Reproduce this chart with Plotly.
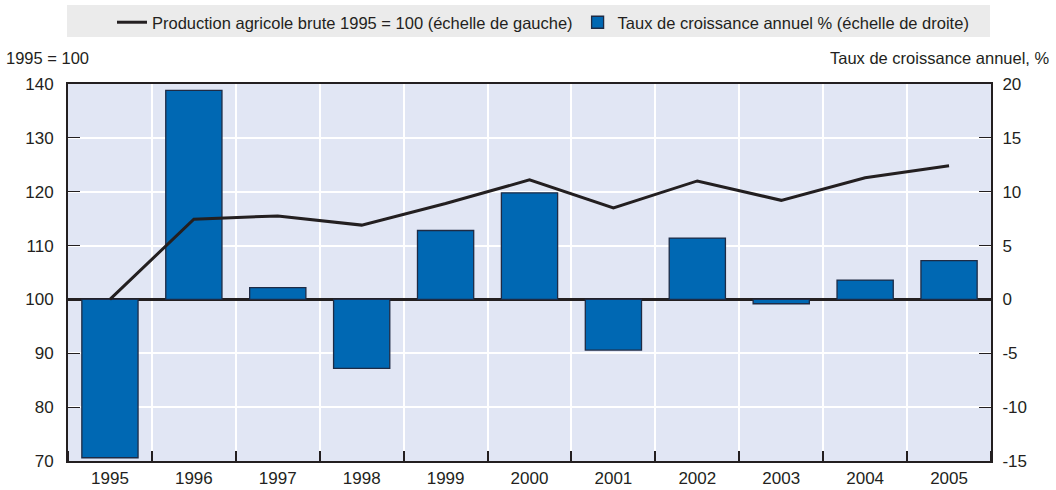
import plotly.graph_objects as go

years = [1995, 1996, 1997, 1998, 1999, 2000, 2001, 2002, 2003, 2004, 2005]
production_index = [100.0, 114.9, 115.5, 113.8, 117.8, 122.2, 117.0, 122.0, 118.4, 122.6, 124.8]
growth_rate = [-14.7, 19.4, 1.1, -6.4, 6.4, 9.9, -4.7, 5.7, -0.4, 1.8, 3.6]
year_labels = [str(y) for y in years]
left_ticks = [70, 80, 90, 100, 110, 120, 130, 140]
right_ticks = [-15, -10, -5, 0, 5, 10, 15, 20]
right_tick_labels = [str(v) for v in right_ticks]

name_line = "Production agricole brute 1995 = 100 (échelle de gauche)"
name_bar = "Taux de croissance annuel % (échelle de droite)"

FONT = "Liberation Sans Narrow, Arial Narrow, Liberation Sans, Arial, sans-serif"
DARK = "#231F20"

fig = go.Figure()
fig.add_trace(go.Scatter(
    x=years, y=production_index, name=name_line, mode="lines",
    line=dict(color=DARK, width=3), yaxis="y2",
))
fig.add_trace(go.Bar(
    x=years, y=growth_rate, name=name_bar, width=0.67,
    marker=dict(color="#0068B3", line=dict(color="#1E2B45", width=1.3)),
    yaxis="y",
))

W, H = 1056, 490
L, R, T, B = 68, 65, 84, 29
pw, ph = W - L - R, H - T - B

def px_x(x):
    return (x - L) / pw

def px_y(y):
    return 1 + (T - y) / ph

fig.update_layout(
    width=W, height=H,
    margin=dict(l=L, r=R, t=T, b=B, pad=0, autoexpand=False),
    paper_bgcolor="white",
    plot_bgcolor="#E1E6F4",
    font=dict(family=FONT, size=17, color=DARK),
    showlegend=True,
    legend=dict(
        orientation="h", x=px_x(112), y=px_y(5), xanchor="left", yanchor="top",
        bgcolor="rgba(0,0,0,0)", font=dict(size=16.5, family=FONT, color=DARK),
        traceorder="normal", itemwidth=30,
    ),
    xaxis=dict(
        range=[1994.5, 2005.5],
        tickvals=years, ticktext=year_labels,
        ticks="", showgrid=False, automargin=False,
        showline=True, linecolor=DARK, linewidth=2, mirror=True,
        zeroline=False, ticklabelstandoff=1,
        minor=dict(tick0=1995.5, dtick=1, ticks="inside", ticklen=10,
                   tickcolor=DARK, tickwidth=1.5,
                   showgrid=True, gridcolor="white", gridwidth=1.5),
        tickfont=dict(size=17),
    ),
    yaxis=dict(
        side="right", range=[-15, 20],
        tickvals=right_ticks, ticktext=right_tick_labels,
        ticks="inside", ticklen=12, tickcolor=DARK, tickwidth=1.2,
        showgrid=True, gridcolor="white", gridwidth=1.5,
        zeroline=True, zerolinecolor=DARK, zerolinewidth=2.5,
        showline=True, linecolor=DARK, linewidth=2,
        automargin=False, ticklabelstandoff=6,
        tickfont=dict(size=17),
    ),
    yaxis2=dict(
        side="left", overlaying="y", range=[70, 140],
        tickvals=left_ticks,
        ticks="inside", ticklen=12, tickcolor=DARK, tickwidth=1.2,
        showgrid=False, zeroline=False,
        showline=True, linecolor=DARK, linewidth=2,
        automargin=False, ticklabelstandoff=9,
        tickfont=dict(size=17),
    ),
    shapes=[dict(
        type="rect", xref="paper", yref="paper",
        x0=px_x(67), x1=px_x(990), y0=px_y(37), y1=px_y(5),
        fillcolor="#EBEBEB", line=dict(width=0), layer="below",
    )],
    annotations=[
        dict(text="1995 = 100", xref="paper", yref="paper",
             x=px_x(4), y=px_y(58), xanchor="left", yanchor="middle",
             showarrow=False, font=dict(size=16.5, family=FONT, color=DARK)),
        dict(text="Taux de croissance annuel, %", xref="paper", yref="paper",
             x=px_x(1052), y=px_y(58), xanchor="right", yanchor="middle",
             showarrow=False, font=dict(size=16.5, family=FONT, color=DARK)),
    ],
)

fig.write_html(
    "out.html",
    config={"displayModeBar": False},
    post_script="document.body.style.margin='0';document.body.style.padding='0';",
)
